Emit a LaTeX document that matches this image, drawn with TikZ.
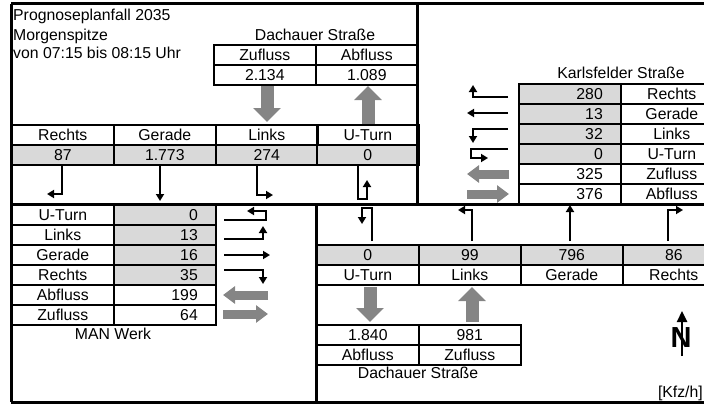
\documentclass[tikz,border=0pt]{standalone}
\usepackage{fontspec}
\setmainfont{Liberation Sans}
\usetikzlibrary{arrows.meta}

\definecolor{zellgrau}{HTML}{D9D9D9}
\definecolor{pfeilgrau}{HTML}{858585}

\tikzset{
  zelle/.style={draw, line width=1.6pt, minimum width=102pt, minimum height=20pt,
    inner sep=0pt, anchor=north west, text height=11pt, text depth=0pt},
  wert/.style={zelle, fill=zellgrau},
  zahl/.style={zelle, text width=66pt, align=right},
  zahlg/.style={zahl, fill=zellgrau},
  spur/.style={line width=1.8pt, -{Triangle[length=7pt,width=8pt]}},
  strom/.style={pfeilgrau, line width=13pt, -{Triangle[length=14pt,width=27pt]}},
  stromq/.style={pfeilgrau, line width=9pt, -{Triangle[length=12pt,width=17pt]}},
  rahmen/.style={line width=3pt},
  titel/.style={inner sep=0pt},
}

\begin{document}
\begin{tikzpicture}[x=1pt,y=-1pt,font=\fontsize{15.8}{18}\selectfont]
  \useasboundingbox (0,0) rectangle (704,404);
  \clip (0,0) rectangle (704,404);

  % Kopf
  \node[titel, anchor=base west] (plan) at (13,21) {Prognoseplanfall 2035};
  \node[titel, anchor=base west] (spitze) at (13,41) {Morgenspitze};
  \node[titel, anchor=base west] (zeit) at (13,59) {von 07:15 bis 08:15 Uhr};

  % Dachauer Strasse Nord
  \node[titel, anchor=base] (dnord) at (315,41) {Dachauer Straße};
  \node[zelle] (nZl) at (213,44) {Zufluss};
  \node[zelle] (nAl) at (315,44) {Abfluss};
  \node[zelle] (nZv) at (213,64) {2.134};
  \node[zelle] (nAv) at (315,64) {1.089};
  \draw[strom] (267,86) -- (267,122);
  \draw[strom] (368,124) -- (368,86);

  \node[zelle] (nRl) at (11,124) {Rechts};
  \node[zelle] (nGl) at (113,124) {Gerade};
  \node[zelle] (nLl) at (215,124) {Links};
  \node[zelle] (nUl) at (316,124) {U-Turn};
  \node[wert] (nRv) at (11,144) {87};
  \node[wert] (nGv) at (113,144) {1.773};
  \node[wert] (nLv) at (215,144) {274};
  \node[wert] (nUv) at (316,144) {0};

  \draw[spur] (62,164) -- (62,194) -- (47,194);
  \draw[spur] (160,164) -- (160,201);
  \draw[spur] (257,164) -- (257,195) -- (273,195);
  \draw[spur] (358,164) -- (358,199) -- (367,199) -- (367,180);

  % Karlsfelder Strasse
  \node[titel, anchor=base] (karls) at (621,78) {Karlsfelder Straße};
  \node[zahlg] (oRv) at (518,83) {280};
  \node[zahlg] (oGv) at (518,103) {13};
  \node[zahlg] (oLv) at (518,123) {32};
  \node[zahlg] (oUv) at (518,143) {0};
  \node[zahl] (oZv) at (518,163) {325};
  \node[zahl] (oAv) at (518,183) {376};
  \node[zelle] (oRl) at (620,83) {Rechts};
  \node[zelle] (oGl) at (620,103) {Gerade};
  \node[zelle] (oLl) at (620,123) {Links};
  \node[zelle] (oUl) at (620,143) {U-Turn};
  \node[zelle] (oZl) at (620,163) {Zufluss};
  \node[zelle] (oAl) at (620,183) {Abfluss};

  \draw[spur] (508,97) -- (473,97) -- (473,85);
  \draw[spur] (508,113) -- (467,113);
  \draw[spur] (508,129) -- (473,129) -- (473,143);
  \draw[spur] (508,149) -- (471,149) -- (471,158) -- (488,158);
  \draw[stromq] (509,174) -- (467,174);
  \draw[stromq] (467,194) -- (509,194);

  % MAN Werk
  \node[zelle] (wUl) at (11,204) {U-Turn};
  \node[zelle] (wLl) at (11,224) {Links};
  \node[zelle] (wGl) at (11,244) {Gerade};
  \node[zelle] (wRl) at (11,264) {Rechts};
  \node[zelle] (wAl) at (11,284) {Abfluss};
  \node[zelle] (wZl) at (11,304) {Zufluss};
  \node[zahlg] (wUv) at (113,204) {0};
  \node[zahlg] (wLv) at (113,224) {13};
  \node[zahlg] (wGv) at (113,244) {16};
  \node[zahlg] (wRv) at (113,264) {35};
  \node[zahl] (wAv) at (113,284) {199};
  \node[zahl] (wZv) at (113,304) {64};
  \node[titel, anchor=base] (werk) at (113,339) {MAN Werk};

  \draw[spur] (224,220) -- (266,220) -- (266,211) -- (247,211);
  \draw[spur] (224,239) -- (263,239) -- (263,226);
  \draw[spur] (224,255) -- (270,255);
  \draw[spur] (224,270) -- (263,270) -- (263,284);
  \draw[stromq] (268,295) -- (223,295);
  \draw[stromq] (223,314) -- (268,314);

  % Dachauer Strasse Sued
  \node[wert] (sUv) at (316,244) {0};
  \node[wert] (sLv) at (418,244) {99};
  \node[wert] (sGv) at (520,244) {796};
  \node[wert] (sRv) at (622,244) {86};
  \node[zelle] (sUl) at (316,264) {U-Turn};
  \node[zelle] (sLl) at (418,264) {Links};
  \node[zelle] (sGl) at (520,264) {Gerade};
  \node[zelle] (sRl) at (622,264) {Rechts};

  \draw[spur] (372,241) -- (372,208) -- (362,208) -- (362,224);
  \draw[spur] (472,241) -- (472,210) -- (458,210);
  \draw[spur] (570,241) -- (570,205);
  \draw[spur] (668,241) -- (668,210) -- (683,210);
  \draw[strom] (370,287) -- (370,322);
  \draw[strom] (472,322) -- (472,287);

  \node[zelle] (sAv) at (316,324) {1.840};
  \node[zelle] (sZv) at (418,324) {981};
  \node[zelle] (sAl) at (316,344) {Abfluss};
  \node[zelle] (sZl) at (418,344) {Zufluss};
  \node[titel, anchor=base] (dsued) at (418,378) {Dachauer Straße};

  % Nordpfeil, Einheit
  \node[titel, font=\bfseries\fontsize{29}{30}\selectfont] (nord) at (681,337.5) {N};
  \draw[line width=2.4pt, -{Triangle[length=11pt,width=10pt]}] (682,356) -- (682,311);
  \node[titel, anchor=base east] (einheit) at (703,397) {[Kfz/h]};

  % Rahmen
  \draw[rahmen] (11,4) -- (720,4);
  \draw[rahmen] (11,4) -- (11,402);
  \draw[rahmen] (11,402) -- (720,402);
  \draw[rahmen] (417,4) -- (417,204);
  \draw[rahmen] (11,204) -- (720,204);
  \draw[rahmen] (316,204) -- (316,402);
\end{tikzpicture}
\end{document}
